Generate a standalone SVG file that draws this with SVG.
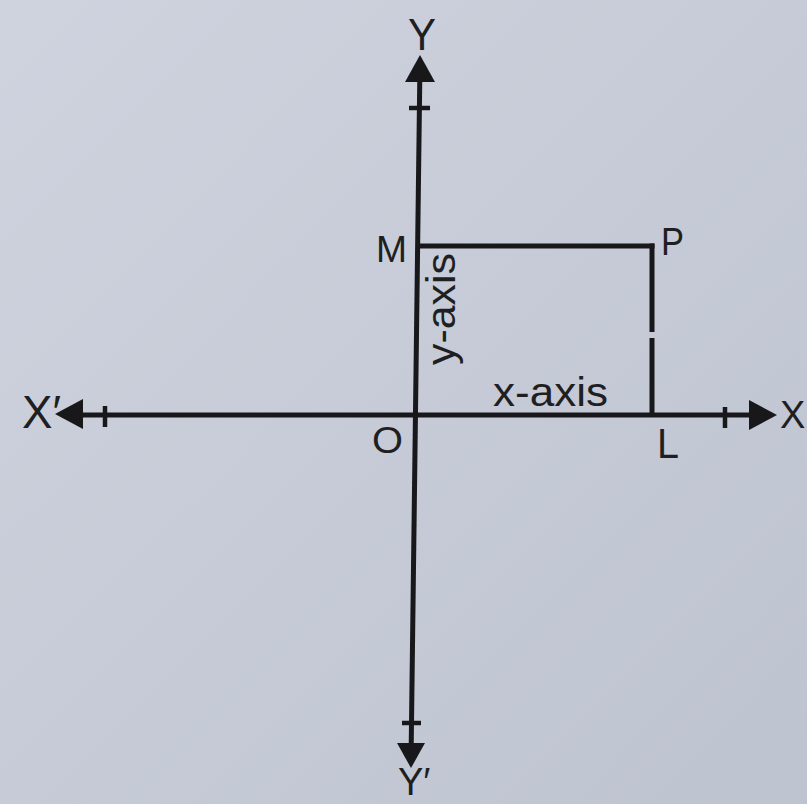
<svg xmlns="http://www.w3.org/2000/svg" width="807" height="804" viewBox="0 0 807 804">
  <defs>
    <linearGradient id="bg" x1="0" y1="0" x2="1" y2="1">
      <stop offset="0" stop-color="#cfd3de"/>
      <stop offset="0.5" stop-color="#c6cbd7"/>
      <stop offset="1" stop-color="#bec3d0"/>
    </linearGradient>
  </defs>
  <style>
    .ln { stroke: #18181a; stroke-width: 5; fill: none; stroke-linecap: butt; }
    .tk { stroke: #18181a; stroke-width: 4.5; fill: none; }
    .ah { fill: #18181a; stroke: none; }
    .lb { font-family: "Liberation Sans", Arial, Helvetica, sans-serif; fill: #1f1f22; }
  </style>
  <rect x="0" y="0" width="807" height="804" fill="url(#bg)"/>

  <g id="connectors">
    <!-- x axis -->
    <line class="ln" x1="62" y1="415" x2="770" y2="415"/>
    <!-- y axis -->
    <line class="ln" x1="420" y1="62" x2="411" y2="762"/>
    <!-- MP -->
    <line class="ln" x1="417" y1="246" x2="654.5" y2="246"/>
    <!-- PL (with small print gap) -->
    <line class="ln" x1="652" y1="243.5" x2="652" y2="332"/>
    <line class="ln" x1="652" y1="338" x2="652" y2="415"/>
    <!-- ticks -->
    <line class="tk" x1="409" y1="108" x2="430" y2="108"/>
    <line class="tk" x1="402" y1="723" x2="421" y2="723"/>
    <line class="tk" x1="105" y1="406" x2="105" y2="427"/>
    <line class="tk" x1="725" y1="407" x2="725" y2="428"/>
    <!-- arrowheads -->
    <polygon class="ah" points="420,55 405,82 435,82"/>
    <polygon class="ah" points="411,768 397,743 425,743"/>
    <polygon class="ah" points="55,414 83,399 83,429"/>
    <polygon class="ah" points="777,415 749,400 749,430"/>
  </g>

  <g id="label-Y"><text class="lb" x="408" y="50" font-size="44" textLength="28" lengthAdjust="spacingAndGlyphs">Y</text></g>
  <g id="label-Y-prime"><text class="lb" x="398" y="795" font-size="38">Y′</text></g>
  <g id="label-X-prime"><text class="lb" x="22" y="428" font-size="46" textLength="39" lengthAdjust="spacingAndGlyphs">X′</text></g>
  <g id="label-X"><text class="lb" x="780" y="428" font-size="38">X</text></g>
  <g id="label-M"><text class="lb" x="376" y="262" font-size="36" textLength="31" lengthAdjust="spacingAndGlyphs">M</text></g>
  <g id="label-P"><text class="lb" x="661" y="255" font-size="39" textLength="23" lengthAdjust="spacingAndGlyphs">P</text></g>
  <g id="label-O"><text class="lb" x="372" y="453" font-size="36" textLength="31" lengthAdjust="spacingAndGlyphs">O</text></g>
  <g id="label-L"><text class="lb" x="657" y="458" font-size="42" textLength="22" lengthAdjust="spacingAndGlyphs">L</text></g>
  <g id="label-x-axis"><text class="lb" x="493" y="406" font-size="40" textLength="115" lengthAdjust="spacingAndGlyphs">x-axis</text></g>
  <g id="label-y-axis"><text class="lb" transform="translate(455,365) rotate(-90)" x="0" y="0" font-size="40" textLength="112" lengthAdjust="spacingAndGlyphs">y-axis</text></g>
</svg>
